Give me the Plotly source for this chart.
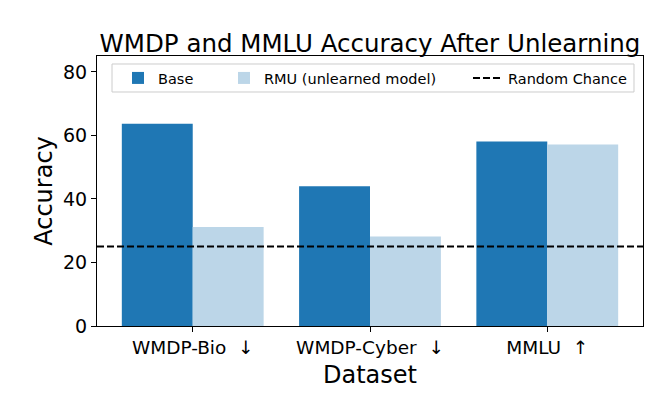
import plotly.graph_objects as go

categories = ["WMDP-Bio  ↓", "WMDP-Cyber  ↓", "MMLU  ↑"]
base_values = [63.7, 44.0, 58.1]
rmu_values = [31.2, 28.2, 57.1]
random_chance = 25.0
y_ticks = [0, 20, 40, 60, 80]

FONT = "DejaVu Sans"
BASE_COLOR = "#1f77b4"
RMU_COLOR = "#bcd6e8"
DASH = dict(color="black", width=2, dash="7px,3px")

fig = go.Figure()
fig.add_trace(go.Bar(x=categories, y=base_values, name="Base", legend="legend",
                     marker=dict(color=BASE_COLOR, line=dict(width=0))))
fig.add_trace(go.Bar(x=categories, y=rmu_values, name="RMU (unlearned model)", legend="legend2",
                     marker=dict(color=RMU_COLOR, line=dict(width=0))))
fig.add_trace(go.Scatter(x=[None], y=[None], mode="lines", name="Random Chance",
                         legend="legend3", line=DASH))
fig.add_hline(y=random_chance, line=DASH, layer="above")

# legend frame
fig.add_shape(type="rect", xref="paper", yref="paper",
              x0=0.0275, x1=0.9835, y0=0.8667, y1=0.9704,
              line=dict(color="#cccccc", width=1), fillcolor="white", layer="above")

leg_common = dict(orientation="h", yanchor="middle", y=0.9185, xanchor="left",
                  bgcolor="rgba(0,0,0,0)", borderwidth=0,
                  font=dict(size=14.5, family=FONT, color="black"), itemwidth=30)

fig.update_layout(
    width=669, height=401,
    margin=dict(l=97, r=26, t=56, b=75),
    paper_bgcolor="white", plot_bgcolor="white",
    font=dict(family=FONT, color="black"),
    barmode="group", bargap=0.2, bargroupgap=0,
    title=dict(text="WMDP and MMLU Accuracy After Unlearning",
               font=dict(size=24.5, family=FONT, color="black"),
               x=0.5, xref="paper", xanchor="center",
               y=1, yref="paper", yanchor="bottom", pad=dict(b=4)),
    legend=dict(x=0.0385, **leg_common),
    legend2=dict(x=0.2326, **leg_common),
    legend3=dict(x=0.6795, **leg_common),
    showlegend=True,
)
fig.update_xaxes(
    range=[-0.54, 2.54],
    showline=True, linecolor="black", linewidth=1, mirror=True,
    ticks="outside", ticklen=5, tickcolor="black",
    tickfont=dict(size=18.5, family=FONT, color="black"),
    title=dict(text="Dataset", font=dict(size=24, family=FONT, color="black"), standoff=8),
    showgrid=False, zeroline=False,
)
fig.update_yaxes(
    range=[0, 85], tickvals=y_ticks,
    showline=True, linecolor="black", linewidth=1, mirror=True,
    ticks="outside", ticklen=5, tickcolor="black",
    tickfont=dict(size=19, family=FONT, color="black"),
    title=dict(text="Accuracy", font=dict(size=24, family=FONT, color="black"), standoff=3),
    showgrid=False, zeroline=False,
)

fig.write_html("out.html", config={"displayModeBar": False},
               post_script="document.body.style.margin='0';")
